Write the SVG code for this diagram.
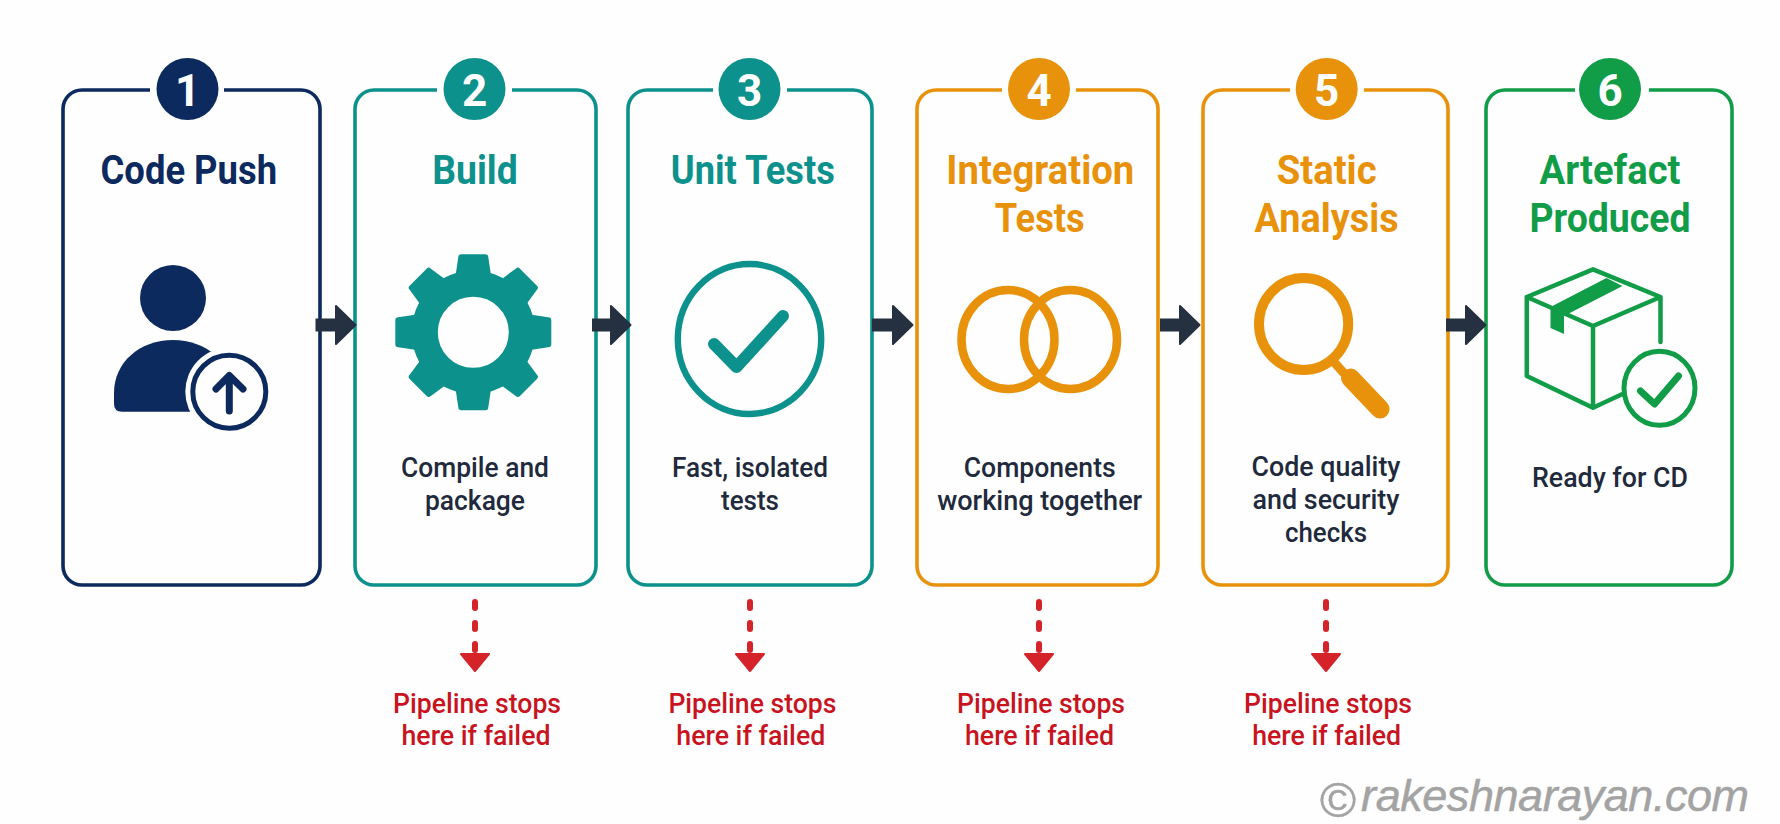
<svg xmlns="http://www.w3.org/2000/svg" width="1780" height="824" viewBox="0 0 1780 824">
<style>
text{text-anchor:middle;font-family:Roboto,"Liberation Sans",sans-serif}
.t{font-size:40px;font-weight:700}
.d{font-size:27px;font-weight:500;fill:#1f2a3c}
.s{font-size:27px;font-weight:500;fill:#c8141e}
.n{font-size:44px;font-weight:700;fill:#fff}
.box{fill:none;stroke-width:3.6}
.navy{fill:#0d2a5e}.teal{fill:#0d918c}.org{fill:#e8920c}.grn{fill:#119c48}
.lnavy{stroke:#0d2a5e}.lteal{stroke:#0d918c}.lorg{stroke:#e8920c}.lgrn{stroke:#119c48}
.flow{stroke:#253040;stroke-width:13}
.fail{stroke:#d5232a;stroke-width:6;stroke-linecap:round;stroke-dasharray:6 15}
.wm{font-family:"Liberation Sans",Arial,sans-serif;font-style:italic;fill:#a3a3a3;font-size:45px;text-anchor:start;stroke:#a3a3a3;stroke-width:.5}
</style>
<defs>
<marker id="fh" markerUnits="userSpaceOnUse" orient="auto" markerWidth="24" markerHeight="44" refX="0" refY="22" viewBox="0 0 24 44" overflow="visible"><path d="M1,3 L20.500,22 L1,41 Z" fill="#253040" stroke="#253040" stroke-width="2" stroke-linejoin="round"/></marker>
<marker id="rh" markerUnits="userSpaceOnUse" orient="auto" markerWidth="20" markerHeight="32" refX="0" refY="16" viewBox="0 0 20 32" overflow="visible"><path d="M1,2 L18,16 L1,30 Z" fill="#d5232a" stroke="#d5232a" stroke-width="2" stroke-linejoin="round"/></marker>
<path id="tooth" d="M-18,-55 L-15,-75 Q-15,-78 -12,-78 H12 Q15,-78 15,-75 L18,-55 Z"/>
</defs>
<rect width="1780" height="824" fill="#fefefe"/>

<g id="node1">
<path class="box lnavy" d="M150,90 H82 A19,19 0 0 0 63,109 V566 A19,19 0 0 0 82,585 H301 A19,19 0 0 0 320,566 V109 A19,19 0 0 0 301,90 H224"/>
<circle class="navy" cx="187.500" cy="89" r="31"/><text class="n" x="187.500" y="105.500">1</text>
<text class="t navy" x="188.800" y="183.700" textLength="176.500" lengthAdjust="spacingAndGlyphs">Code Push</text>
<circle class="navy" cx="173" cy="298" r="33"/>
<path class="navy" d="M114,393 C114,362 140,340 173,340 C206,340 232,362 232,393 V411.700 H122 Q114,411.700 114,404 Z"/>
<circle cx="229.300" cy="391.700" r="44" fill="#fefefe"/>
<circle cx="229.300" cy="391.700" r="36.500" fill="#fefefe" stroke="#0d2a5e" stroke-width="5"/>
<path d="M229.300,411 V376 M216,389 L229.300,375.500 L243,389" fill="none" stroke="#0d2a5e" stroke-width="7" stroke-linecap="round" stroke-linejoin="round"/>
</g>

<g id="node2">
<path class="box lteal" d="M437,90 H374 A19,19 0 0 0 355,109 V566 A19,19 0 0 0 374,585 H577 A19,19 0 0 0 596,566 V109 A19,19 0 0 0 577,90 H512"/>
<circle class="teal" cx="474.500" cy="89" r="31"/><text class="n" x="474.500" y="105.500">2</text>
<text class="t teal" x="475" y="183.700" textLength="85.500" lengthAdjust="spacingAndGlyphs">Build</text>
<g class="teal" transform="translate(473.300,332.300)">
<circle r="48.500" fill="none" stroke="#0d918c" stroke-width="26"/>
<use href="#tooth"/><use href="#tooth" transform="rotate(45)"/><use href="#tooth" transform="rotate(90)"/><use href="#tooth" transform="rotate(135)"/><use href="#tooth" transform="rotate(180)"/><use href="#tooth" transform="rotate(225)"/><use href="#tooth" transform="rotate(270)"/><use href="#tooth" transform="rotate(315)"/>
</g>
<text class="d" x="475" y="476.800" textLength="148" lengthAdjust="spacingAndGlyphs">Compile and</text>
<text class="d" x="475" y="509.800" textLength="100" lengthAdjust="spacingAndGlyphs">package</text>
</g>

<g id="node3">
<path class="box lteal" d="M713,90 H647 A19,19 0 0 0 628,109 V566 A19,19 0 0 0 647,585 H853 A19,19 0 0 0 872,566 V109 A19,19 0 0 0 853,90 H787"/>
<circle class="teal" cx="749.500" cy="89" r="31"/><text class="n" x="749.500" y="105.500">3</text>
<text class="t teal" x="752.800" y="183.700" textLength="164" lengthAdjust="spacingAndGlyphs">Unit Tests</text>
<ellipse cx="749.500" cy="339" rx="71.700" ry="75" fill="none" stroke="#0d918c" stroke-width="6.400"/>
<path d="M714,344 L736.500,367 L783,316" fill="none" stroke="#0d918c" stroke-width="12" stroke-linecap="round" stroke-linejoin="round"/>
<text class="d" x="750" y="476.800" textLength="156" lengthAdjust="spacingAndGlyphs">Fast, isolated</text>
<text class="d" x="750" y="509.800" textLength="58" lengthAdjust="spacingAndGlyphs">tests</text>
</g>

<g id="node4">
<path class="box lorg" d="M1002,90 H936 A19,19 0 0 0 917,109 V566 A19,19 0 0 0 936,585 H1139 A19,19 0 0 0 1158,566 V109 A19,19 0 0 0 1139,90 H1076"/>
<circle class="org" cx="1039" cy="89" r="31"/><text class="n" x="1039" y="105.500">4</text>
<text class="t org" x="1040.300" y="183.700" textLength="188" lengthAdjust="spacingAndGlyphs">Integration</text>
<text class="t org" x="1039.700" y="231.700" textLength="90" lengthAdjust="spacingAndGlyphs">Tests</text>
<ellipse cx="1008" cy="339.500" rx="46.500" ry="49.500" fill="none" stroke="#e8920c" stroke-width="8.500"/>
<ellipse cx="1070.500" cy="339.500" rx="46.500" ry="49.500" fill="none" stroke="#e8920c" stroke-width="8.500"/>
<text class="d" x="1039.700" y="476.800" textLength="152" lengthAdjust="spacingAndGlyphs">Components</text>
<text class="d" x="1039.700" y="509.800" textLength="205" lengthAdjust="spacingAndGlyphs">working together</text>
</g>

<g id="node5">
<path class="box lorg" d="M1290,90 H1222 A19,19 0 0 0 1203,109 V566 A19,19 0 0 0 1222,585 H1429 A19,19 0 0 0 1448,566 V109 A19,19 0 0 0 1429,90 H1364"/>
<circle class="org" cx="1326.700" cy="89" r="31"/><text class="n" x="1326.700" y="105.500">5</text>
<text class="t org" x="1326.700" y="183.700" textLength="100" lengthAdjust="spacingAndGlyphs">Static</text>
<text class="t org" x="1326.600" y="231.700" textLength="144" lengthAdjust="spacingAndGlyphs">Analysis</text>
<ellipse cx="1303.600" cy="324" rx="44.600" ry="46" fill="none" stroke="#e8920c" stroke-width="10"/>
<path d="M1334,362 L1350,380" fill="none" stroke="#e8920c" stroke-width="9"/>
<path d="M1350.500,378 L1380,409" fill="none" stroke="#e8920c" stroke-width="19" stroke-linecap="round"/>
<text class="d" x="1326" y="476" textLength="149" lengthAdjust="spacingAndGlyphs">Code quality</text>
<text class="d" x="1326" y="509" textLength="147" lengthAdjust="spacingAndGlyphs">and security</text>
<text class="d" x="1326" y="542" textLength="82" lengthAdjust="spacingAndGlyphs">checks</text>
</g>

<g id="node6">
<path class="box lgrn" d="M1575,90 H1505 A19,19 0 0 0 1486,109 V566 A19,19 0 0 0 1505,585 H1713 A19,19 0 0 0 1732,566 V109 A19,19 0 0 0 1713,90 H1649"/>
<circle class="grn" cx="1610" cy="89" r="31"/><text class="n" x="1610" y="105.500">6</text>
<text class="t grn" x="1610" y="183.700" textLength="141" lengthAdjust="spacingAndGlyphs">Artefact</text>
<text class="t grn" x="1610" y="231.700" textLength="161" lengthAdjust="spacingAndGlyphs">Produced</text>
<g transform="translate(-1.500,1)">
<path d="M1594.500,268.300 L1528.300,296 L1594.500,325 L1662,296 Z M1528.300,296 V375 L1594.500,406.700 L1624,393 M1594.500,325 V406.700 M1662,296 V341" fill="none" stroke="#119c48" stroke-width="4.500" stroke-linejoin="round" stroke-linecap="round"/>
<path class="grn" d="M1552,306 L1608,277 L1624,285 L1565.500,315 V333 L1552,327 Z"/>
<ellipse cx="1661" cy="387.300" rx="35.500" ry="37" fill="#fefefe" stroke="#119c48" stroke-width="5"/>
<path d="M1642,390 L1656,403 L1680,375" fill="none" stroke="#119c48" stroke-width="7" stroke-linecap="round" stroke-linejoin="round"/>
</g>
<text class="d" x="1610" y="487" textLength="156" lengthAdjust="spacingAndGlyphs">Ready for CD</text>
</g>

<g id="connectors" fill="none">
<line class="flow" x1="315.500" y1="325" x2="335" y2="325" marker-end="url(#fh)"/>
<line class="flow" x1="592" y1="325" x2="610" y2="325" marker-end="url(#fh)"/>
<line class="flow" x1="872" y1="325" x2="892" y2="325" marker-end="url(#fh)"/>
<line class="flow" x1="1160" y1="325" x2="1179" y2="325" marker-end="url(#fh)"/>
<line class="flow" x1="1446" y1="325" x2="1465" y2="325" marker-end="url(#fh)"/>
<line class="fail" x1="475" y1="602" x2="475" y2="653" marker-end="url(#rh)"/>
<line class="fail" x1="750" y1="602" x2="750" y2="653" marker-end="url(#rh)"/>
<line class="fail" x1="1039" y1="602" x2="1039" y2="653" marker-end="url(#rh)"/>
<line class="fail" x1="1326" y1="602" x2="1326" y2="653" marker-end="url(#rh)"/>
</g>

<g id="fail-labels">
<text class="s" x="477" y="712.500" textLength="168" lengthAdjust="spacingAndGlyphs">Pipeline stops</text>
<text class="s" x="476" y="744.500" textLength="149" lengthAdjust="spacingAndGlyphs">here if failed</text>
<text class="s" x="752.400" y="712.500" textLength="168" lengthAdjust="spacingAndGlyphs">Pipeline stops</text>
<text class="s" x="750.800" y="744.500" textLength="149" lengthAdjust="spacingAndGlyphs">here if failed</text>
<text class="s" x="1041" y="712.500" textLength="168" lengthAdjust="spacingAndGlyphs">Pipeline stops</text>
<text class="s" x="1039.500" y="744.500" textLength="149" lengthAdjust="spacingAndGlyphs">here if failed</text>
<text class="s" x="1328" y="712.500" textLength="168" lengthAdjust="spacingAndGlyphs">Pipeline stops</text>
<text class="s" x="1326.700" y="744.500" textLength="149" lengthAdjust="spacingAndGlyphs">here if failed</text>
</g>

<text class="wm" x="1320" y="811"><tspan font-size="49" font-style="normal" dy="6">©</tspan><tspan dx="5" dy="-6" letter-spacing="-.45">rakeshnarayan.com</tspan></text>
</svg>
